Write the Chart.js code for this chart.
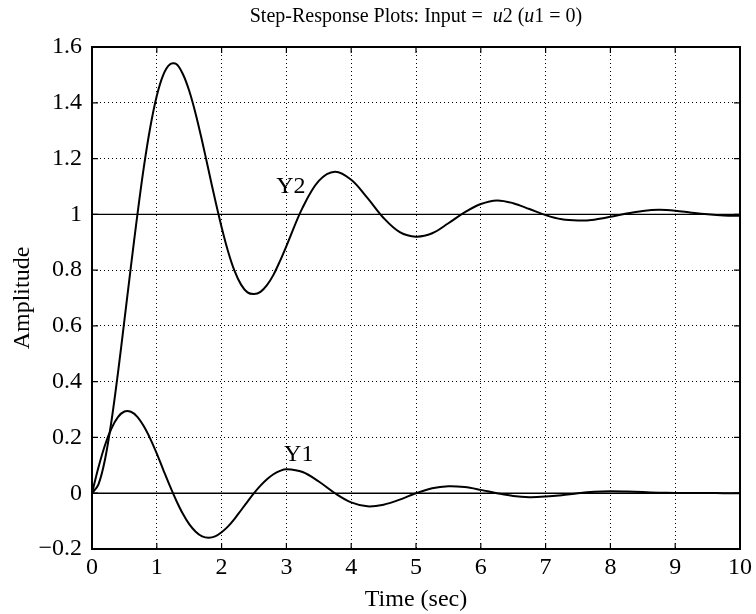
<!DOCTYPE html>
<html>
<head>
<meta charset="utf-8">
<script src="https://cdn.jsdelivr.net/npm/chart.js@4.4.1/dist/chart.umd.min.js"></script>
<style>
  html, body { margin: 0; padding: 0; background: #ffffff; }
  #wrap { width: 756px; height: 614px; }
</style>
</head>
<body>
<div id="wrap"><canvas id="c" width="756" height="614"></canvas></div>
<script>
// Time samples (sec)
const times = [0,0.1,0.2,0.3,0.4,0.5,0.6,0.7,0.8,0.9,1.0,1.1,1.2,1.3,1.4,1.5,1.6,1.7,1.8,1.9,2.0,
  2.1,2.2,2.3,2.4,2.5,2.6,2.7,2.8,2.9,3.0,
  3.25,3.5,3.75,4.0,4.25,4.5,4.75,5.0,5.25,5.5,5.75,6.0,6.25,6.5,6.75,7.0,7.25,7.5,7.75,8.0,
  8.25,8.5,8.75,9.0,9.25,9.5,9.75,10.0];

// Output Y2
const y2Values = [0,0.032,0.120,0.258,0.430,0.620,0.812,0.998,1.169,1.313,1.425,1.500,1.537,1.539,1.504,1.443,1.360,1.262,1.157,1.052,0.954,
  0.867,0.797,0.748,0.720,0.714,0.722,0.746,0.783,0.832,0.886,
  1.024,1.120,1.153,1.124,1.059,0.987,0.936,0.920,0.932,0.968,1.007,1.037,1.050,1.040,1.019,0.997,0.982,0.978,0.981,0.991,
  1.003,1.012,1.016,1.013,1.006,1.000,0.996,0.995];

// Output Y1
const y1Values = [0,0.093,0.172,0.232,0.273,0.293,0.292,0.274,0.240,0.195,0.142,0.084,0.027,-0.026,-0.073,-0.111,-0.138,-0.155,-0.160,-0.155,-0.140,
  -0.119,-0.092,-0.061,-0.030,0.000,0.027,0.050,0.068,0.080,0.086,
  0.076,0.042,0.000,-0.033,-0.047,-0.041,-0.023,0.000,0.018,0.025,0.022,0.012,0.000,-0.010,-0.014,-0.012,-0.007,0.000,0.005,0.007,
  0.006,0.004,0.002,0.001,0.001,0.001,0.000,0.000];

// Steady-state reference lines
const refTimes = [0, 10];
const refLevels = [1, 0];

// Curve labels
const curveLabels = ["Y2", "Y1"];
const curveLabelT = [3.07, 3.19];
const curveLabelV = [1.10, 0.137];

// Axes
const xTicks = [0,1,2,3,4,5,6,7,8,9,10];
const yTicks = [-0.2,0,0.2,0.4,0.6,0.8,1,1.2,1.4,1.6];

const SERIF = '"Liberation Serif", "DejaVu Serif", serif';

function pts(xs, ys) { return xs.map((x, i) => ({ x: x, y: ys[i] })); }

const datasets = [
  { label: 'Y2', data: pts(times, y2Values), borderColor: '#000', borderWidth: 2, pointRadius: 0, tension: 0.35, fill: false },
  { label: 'Y1', data: pts(times, y1Values), borderColor: '#000', borderWidth: 2, pointRadius: 0, tension: 0.35, fill: false }
];
refLevels.forEach(lv => {
  datasets.push({ label: 'ref' + lv, data: pts(refTimes, refTimes.map(() => lv)), borderColor: '#000', borderWidth: 1.4, pointRadius: 0, tension: 0, fill: false });
});

const framePlugin = {
  id: 'frame',
  afterDatasetsDraw(chart) {
    const ctx = chart.ctx;
    const a = chart.chartArea;
    const xs = chart.scales.x, ys = chart.scales.y;
    ctx.save();
    ctx.strokeStyle = '#000';
    ctx.lineWidth = 1.2;
    const tl = 6;
    ctx.beginPath();
    xTicks.forEach(t => {
      const px = xs.getPixelForValue(t);
      ctx.moveTo(px, a.bottom); ctx.lineTo(px, a.bottom - tl);
      ctx.moveTo(px, a.top); ctx.lineTo(px, a.top + tl);
    });
    yTicks.forEach(v => {
      const py = ys.getPixelForValue(v);
      ctx.moveTo(a.left, py); ctx.lineTo(a.left + tl, py);
      ctx.moveTo(a.right, py); ctx.lineTo(a.right - tl, py);
    });
    ctx.stroke();
    ctx.lineWidth = 2;
    ctx.strokeRect(a.left, a.top, a.right - a.left, a.bottom - a.top);

    // curve labels
    ctx.fillStyle = '#000';
    ctx.font = '24px ' + SERIF;
    ctx.textAlign = 'center';
    ctx.textBaseline = 'middle';
    curveLabels.forEach((s, i) => {
      ctx.fillText(s, xs.getPixelForValue(curveLabelT[i]), ys.getPixelForValue(curveLabelV[i]));
    });

    // title with italic parts
    const runs = [
      ['Step-Response Plots: Input =  ', false], ['u', true], ['2 (', false], ['u', true], ['1 = 0)', false]
    ];
    const fN = '20px ' + SERIF, fI = 'italic 20px ' + SERIF;
    let total = 0;
    runs.forEach(r => { ctx.font = r[1] ? fI : fN; total += ctx.measureText(r[0]).width; });
    let x = (a.left + a.right) / 2 - total / 2;
    ctx.textAlign = 'left';
    ctx.textBaseline = 'middle';
    runs.forEach(r => {
      ctx.font = r[1] ? fI : fN;
      ctx.fillText(r[0], x, 17);
      x += ctx.measureText(r[0]).width;
    });
    ctx.restore();
  }
};

new Chart(document.getElementById('c'), {
  type: 'line',
  data: { datasets: datasets },
  options: {
    responsive: false,
    animation: false,
    devicePixelRatio: 1,
    layout: { padding: { top: 47, right: 14, left: 0, bottom: 0 } },
    plugins: { legend: { display: false }, tooltip: { enabled: false }, title: { display: false } },
    scales: {
      x: {
        type: 'linear', min: 0, max: 10,
        afterBuildTicks: s => { s.ticks = xTicks.map(v => ({ value: v })); },
        afterFit: s => { s.height = 65; },
        ticks: { color: '#000', font: { family: SERIF, size: 24 }, padding: 4, maxRotation: 0,
          callback: v => String(Math.round(v)) },
        grid: { color: '#000', lineWidth: 1, drawTicks: false },
        border: { display: false, dash: [1, 3] },
        title: { display: true, text: 'Time (sec)', color: '#000', font: { family: SERIF, size: 24 }, padding: { top: 2, bottom: 0 } }
      },
      y: {
        type: 'linear', min: -0.2, max: 1.6,
        afterBuildTicks: s => { s.ticks = yTicks.map(v => ({ value: v })); },
        afterFit: s => { s.width = 92; },
        ticks: { color: '#000', font: { family: SERIF, size: 24 }, padding: 10,
          callback: v => { const r = Math.round(v * 10) / 10; return r < 0 ? '\u2212' + String(-r) : String(r); } },
        grid: { color: '#000', lineWidth: 1, drawTicks: false },
        border: { display: false, dash: [1, 3] },
        title: { display: true, text: 'Amplitude', color: '#000', font: { family: SERIF, size: 24 }, padding: { top: 8, bottom: 0 } }
      }
    }
  },
  plugins: [framePlugin]
});
</script>
</body>
</html>
